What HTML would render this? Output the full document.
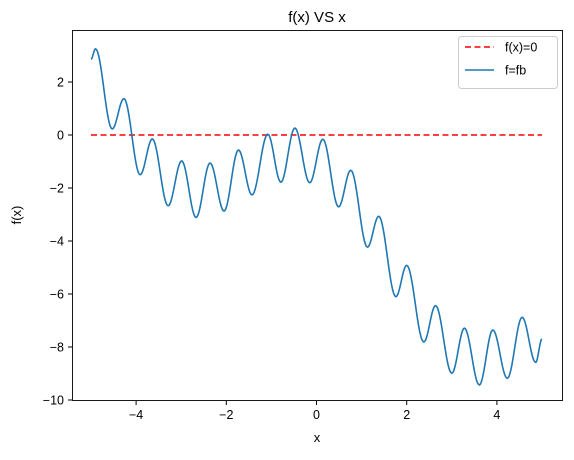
<!DOCTYPE html>
<html><head><meta charset="utf-8"><style>
body{margin:0;background:#fff;}
svg text{font-family:"Liberation Sans","DejaVu Sans",sans-serif;fill:#000;}
</style></head><body>
<svg id="chart" width="574" height="455" xmlns="http://www.w3.org/2000/svg">
<text x="317" y="22" font-size="15" text-anchor="middle">f(x) VS x</text>
<g id="ticks"></g>
<path id="zero-line" fill="none" stroke="#ff0000" stroke-width="1.6" stroke-dasharray="6,3.5"/>
<path id="curve" fill="none" stroke="#1f77b4" stroke-width="1.6"/>
<rect x="72.5" y="30.5" width="490" height="370" fill="none" stroke="#000" stroke-width="0.9"/>
<text x="317" y="442" font-size="13" text-anchor="middle">x</text>
<text transform="translate(21,215) rotate(-90)" font-size="13" text-anchor="middle">f(x)</text>
<g>
<rect x="458.5" y="36.5" width="99" height="52" rx="3" fill="#fff" stroke="#ccc"/>
<line x1="465" y1="47" x2="494" y2="47" stroke="#ff0000" stroke-width="1.6" stroke-dasharray="6,3.5"/>
<text x="505" y="51.5" font-size="12.5">f(x)=0</text>
<line x1="465" y1="70" x2="494" y2="70" stroke="#1f77b4" stroke-width="1.6"/>
<text x="505" y="74.5" font-size="12.5">f=fb</text>
</g>
</svg>
<script>
const xTicks=[-4,-2,0,2,4];
const yTicks=[2,0,-2,-4,-6,-8,-10];
const curveX=[-5.00,-4.90,-4.53,-4.27,-3.91,-3.64,-3.29,-2.99,-2.67,-2.36,-2.05,-1.73,-1.43,-1.08,-0.79,-0.48,-0.15,0.14,0.49,0.76,1.13,1.38,1.76,2.00,2.38,2.64,3.00,3.28,3.61,3.91,4.23,4.56,4.86,5.00];
const curveY=[2.86,3.25,0.23,1.37,-1.50,-0.15,-2.67,-0.98,-3.11,-1.06,-2.87,-0.57,-2.26,0.03,-1.78,0.26,-1.80,-0.16,-2.71,-1.33,-4.23,-3.07,-6.10,-4.92,-7.81,-6.44,-8.99,-7.29,-9.43,-7.36,-9.18,-6.88,-8.58,-7.70];
const zeroX=[-5,5];
const zeroY=[0,0];
const sx=v=>316.5+v*45.1;
const sy=v=>135-v*26.5;
const NS="http://www.w3.org/2000/svg";
const tg=document.getElementById('ticks');
xTicks.forEach(t=>{
  const l=document.createElementNS(NS,'line');
  
  
  l.setAttribute('x1',sx(t));l.setAttribute('x2',sx(t));l.setAttribute('y1',401);l.setAttribute('y2',405);l.setAttribute('stroke','#000');
  tg.appendChild(l);
  const tx=document.createElementNS(NS,'text');
  
  
  tx.setAttribute('x',sx(t));tx.setAttribute('y',419);tx.setAttribute('font-size','12.5');tx.setAttribute('text-anchor','middle');
  tx.textContent=t<0?'\u2212'+(-t):String(t);
  tg.appendChild(tx);
});
yTicks.forEach(t=>{
  const l=document.createElementNS(NS,'line');
  
  
  l.setAttribute('x1',68);l.setAttribute('x2',72);l.setAttribute('y1',sy(t));l.setAttribute('y2',sy(t));l.setAttribute('stroke','#000');
  tg.appendChild(l);
  const tx=document.createElementNS(NS,'text');
  
  
  tx.setAttribute('x',64);tx.setAttribute('y',sy(t)+4.5);tx.setAttribute('font-size','12.5');tx.setAttribute('text-anchor','end');
  tx.textContent=t<0?'\u2212'+(-t):String(t);
  tg.appendChild(tx);
});
document.getElementById('zero-line').setAttribute('d','M'+sx(zeroX[0])+','+sy(zeroY[0])+'L'+sx(zeroX[1])+','+sy(zeroY[1]));
let d='M'+sx(curveX[0])+','+sy(curveY[0]);
for(let i=0;i<curveX.length-1;i++){
  for(let k=1;k<=16;k++){
    const t=k/16,w=(1-Math.cos(Math.PI*t))/2;
    const x=curveX[i]+(curveX[i+1]-curveX[i])*t;
    const y=curveY[i]+(curveY[i+1]-curveY[i])*w;
    d+='L'+sx(x).toFixed(2)+','+sy(y).toFixed(2);
  }
}
document.getElementById('curve').setAttribute('d',d);
</script>
</body></html>
